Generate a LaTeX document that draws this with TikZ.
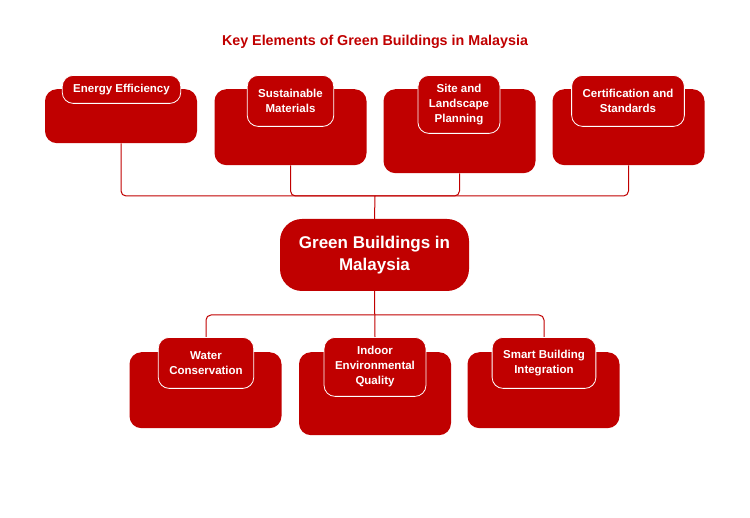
\documentclass[tikz,border=0pt]{standalone}
\usepackage{fontspec}
\setmainfont{Liberation Sans}
\usetikzlibrary{positioning}
\definecolor{gbred}{RGB}{192,0,0}
\tikzset{
  gbbox/.style={fill=gbred, rounded corners=12pt, minimum width=152pt, anchor=north, inner sep=0pt},
  gbtab/.style={fill=gbred, draw=white, line width=.8pt, rounded corners=11pt, text=white, align=center,
    font=\bfseries\fontsize{11.5}{15}\selectfont, inner xsep=11pt, inner ysep=0pt, minimum height=#1, anchor=north},
  gbhub/.style={fill=gbred, rounded corners=22pt, text=white, align=center, minimum width=189pt, minimum height=72pt,
    font=\bfseries\fontsize{17}{22}\selectfont},
  gblink/.style={draw=gbred, line width=1pt, rounded corners=5pt}
}

\begin{document}
\begin{tikzpicture}[x=1pt, y=-1pt]
  \useasboundingbox (0,0) rectangle (750,518);
  \node[text=gbred, font=\bfseries\fontsize{14.3}{17}\selectfont] (title) at (375,42) {Key Elements of Green Buildings in Malaysia};

  % top row
  \node[gbbox, minimum height=54pt] (ee) at (121,89) {};
  \node[gbbox, minimum height=76pt] (sm) at (290.5,89) {};
  \node[gbbox, minimum height=84pt] (sl) at (459.5,89) {};
  \node[gbbox, minimum height=76pt] (cs) at (628.5,89) {};
  \node[gbtab=28pt] (eetab) at (121.5,75) {Energy Efficiency};
  \node[gbtab=51pt] (smtab) at (290.5,75) {Sustainable\\Materials};
  \node[gbtab=58pt] (sltab) at (459,75) {Site and\\Landscape\\Planning};
  \node[gbtab=51pt] (cstab) at (628,75) {Certification and\\Standards};

  % hub
  \node[gbhub] (gb) at (374.5,255) {Green Buildings in\\Malaysia};

  % bottom row
  \node[gbbox, minimum height=76pt] (wc) at (205.5,352) {};
  \node[gbbox, minimum height=83pt] (iq) at (375,352) {};
  \node[gbbox, minimum height=76pt] (sb) at (543.5,352) {};
  \node[gbtab=51pt] (wctab) at (206,337) {Water\\Conservation};
  \node[gbtab=59pt] (iqtab) at (375,337) {Indoor\\Environmental\\Quality};
  \node[gbtab=51pt] (sbtab) at (544,337) {Smart Building\\Integration};

  % connectors
  \coordinate (topjoin) at (375,196);
  \coordinate (botjoin) at (375,315);
  \foreach \n in {ee,sm,sl,cs}
    \draw[gblink] (\n.south) |- (topjoin);
  \draw[gblink] (topjoin) -- (gb.north);
  \draw[gblink] (gb.south) -- (iqtab.north);
  \foreach \n in {wctab,sbtab}
    \draw[gblink] (botjoin) -| (\n.north);
\end{tikzpicture}
\end{document}
